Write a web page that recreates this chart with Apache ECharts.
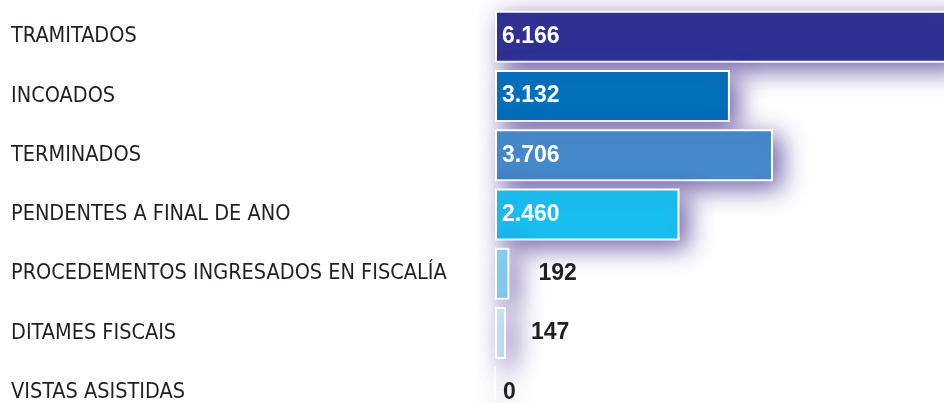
<!DOCTYPE html>
<html>
<head>
<meta charset="utf-8">
<script src="https://cdn.jsdelivr.net/npm/echarts@6/dist/echarts.min.js"></script>
<style>
  html, body { margin: 0; padding: 0; background: #ffffff; }
  #chart { width: 944px; height: 403px; }
</style>
</head>
<body>
<div id="chart"></div>
<script>
// Categories (top to bottom) and their counts
const categories = [
  'TRAMITADOS',
  'INCOADOS',
  'TERMINADOS',
  'PENDENTES A FINAL DE ANO',
  'PROCEDEMENTOS INGRESADOS EN FISCALÍA',
  'DITAMES FISCAIS',
  'VISTAS ASISTIDAS'
];
const values = [6166, 3132, 3706, 2460, 192, 147, 0];
// Value labels as printed (Spanish/Galician thousands separator)
const valueLabels = ['6.166', '3.132', '3.706', '2.460', '192', '147', '0'];

const barColors = ['#2E3192', '#0071BC', '#448CCB', '#17C2F2', '#88D6F5', '#C9EAF9', '#C9EAF9'];
// Short bars carry their number outside in dark text
const insideLabel = [true, true, true, true, false, false, false];
const outsideDistance = [0, 0, 0, 0, 29, 25, 7];

const labelFont = '"DejaVu Sans Condensed", "Liberation Sans Narrow", "Liberation Sans", sans-serif';
const numberFont = '"Liberation Sans", Arial, sans-serif';

const seriesData = values.map((v, i) => ({
  value: v,
  itemStyle: { color: barColors[i] },
  label: insideLabel[i]
    ? { position: 'insideLeft', distance: 7, color: '#ffffff' }
    : { position: 'right', distance: outsideDistance[i], color: '#231F20' }
}));

const chart = echarts.init(document.getElementById('chart'), null, { renderer: 'canvas' });
chart.setOption({
  animation: false,
  backgroundColor: '#ffffff',
  grid: {
    left: 495, top: 7, width: 465, height: 415,
    containLabel: false,
    outerBoundsMode: 'none'
  },
  xAxis: {
    type: 'value', min: 0, max: 6200,
    show: false
  },
  yAxis: {
    type: 'category',
    data: categories,
    inverse: true,
    axisLine: { show: false },
    axisTick: { show: false },
    splitLine: { show: false },
    axisLabel: {
      align: 'left',
      margin: 484,
      color: '#231F20',
      fontFamily: labelFont,
      fontSize: 21.5,
      fontWeight: 'normal'
    }
  },
  series: [{
    type: 'bar',
    data: seriesData,
    barWidth: 52,
    clip: false,
    itemStyle: {
      borderColor: '#ffffff',
      borderWidth: 2,
      shadowColor: 'rgba(88, 68, 155, 0.85)',
      shadowBlur: 24,
      shadowOffsetX: 8,
      shadowOffsetY: 7
    },
    label: {
      show: true,
      formatter: p => valueLabels[p.dataIndex],
      fontFamily: numberFont,
      fontSize: 23,
      fontWeight: 'bold'
    }
  }]
});
</script>
</body>
</html>
